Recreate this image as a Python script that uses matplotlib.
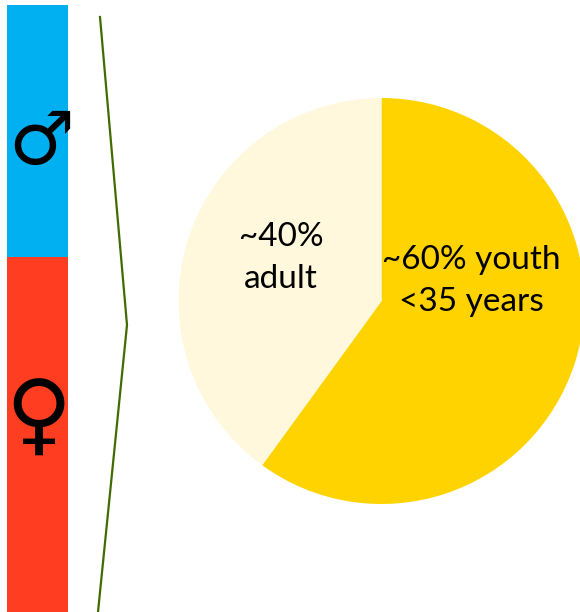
import matplotlib
matplotlib.use("Agg")
import matplotlib.pyplot as plt
from matplotlib.patches import Rectangle

W, H = 580, 612
shares = [60, 40]
slice_colors = ["#FFD300", "#FFF8DC"]
slice_labels = ["~60% youth\n<35 years", "~40%\nadult"]
bar_colors = ["#00B0F0", "#FF3D20"]
bar_heights = [252, 355]

fig = plt.figure(figsize=(W/100, H/100), dpi=100)
bg = fig.add_axes([0, 0, 1, 1])
bg.set_xlim(0, W); bg.set_ylim(H, 0); bg.axis("off")

top = 5
for h, c in zip(bar_heights, bar_colors):
    bg.add_patch(Rectangle((7, top), 61, h, color=c, lw=0))
    top += h

bg.plot([100, 127, 98], [17, 325, 612], color="#3F6B00", lw=1.6, solid_joinstyle="miter")

bg.text(41, 143, "\u2642", fontsize=53, ha="center", va="center", family="DejaVu Sans", color="black")
bg.text(38, 420, "\u2640", fontsize=65, ha="center", va="center", family="DejaVu Sans", color="black")

cx, cy, r = 381.5, 301, 203
ax = fig.add_axes([(cx-r)/W, 1-(cy+r)/H, 2*r/W, 2*r/H])
ax.pie(shares, colors=slice_colors, startangle=90, counterclock=False, radius=1,
       wedgeprops=dict(linewidth=0))
ax.set_xlim(-1, 1); ax.set_ylim(-1, 1)

bg.set_zorder(0); ax.set_zorder(1); ax.patch.set_alpha(0)
fig.text(471/W, 1-281/H, slice_labels[0], fontsize=24, ha="center", va="center",
         family="Lato", color="black", zorder=5, linespacing=1.5)
fig.text(281/W, 1-258/H, slice_labels[1], fontsize=24, ha="center", va="center",
         family="Lato", color="black", zorder=5, linespacing=1.5)
fig.savefig("out.png", dpi=100)
